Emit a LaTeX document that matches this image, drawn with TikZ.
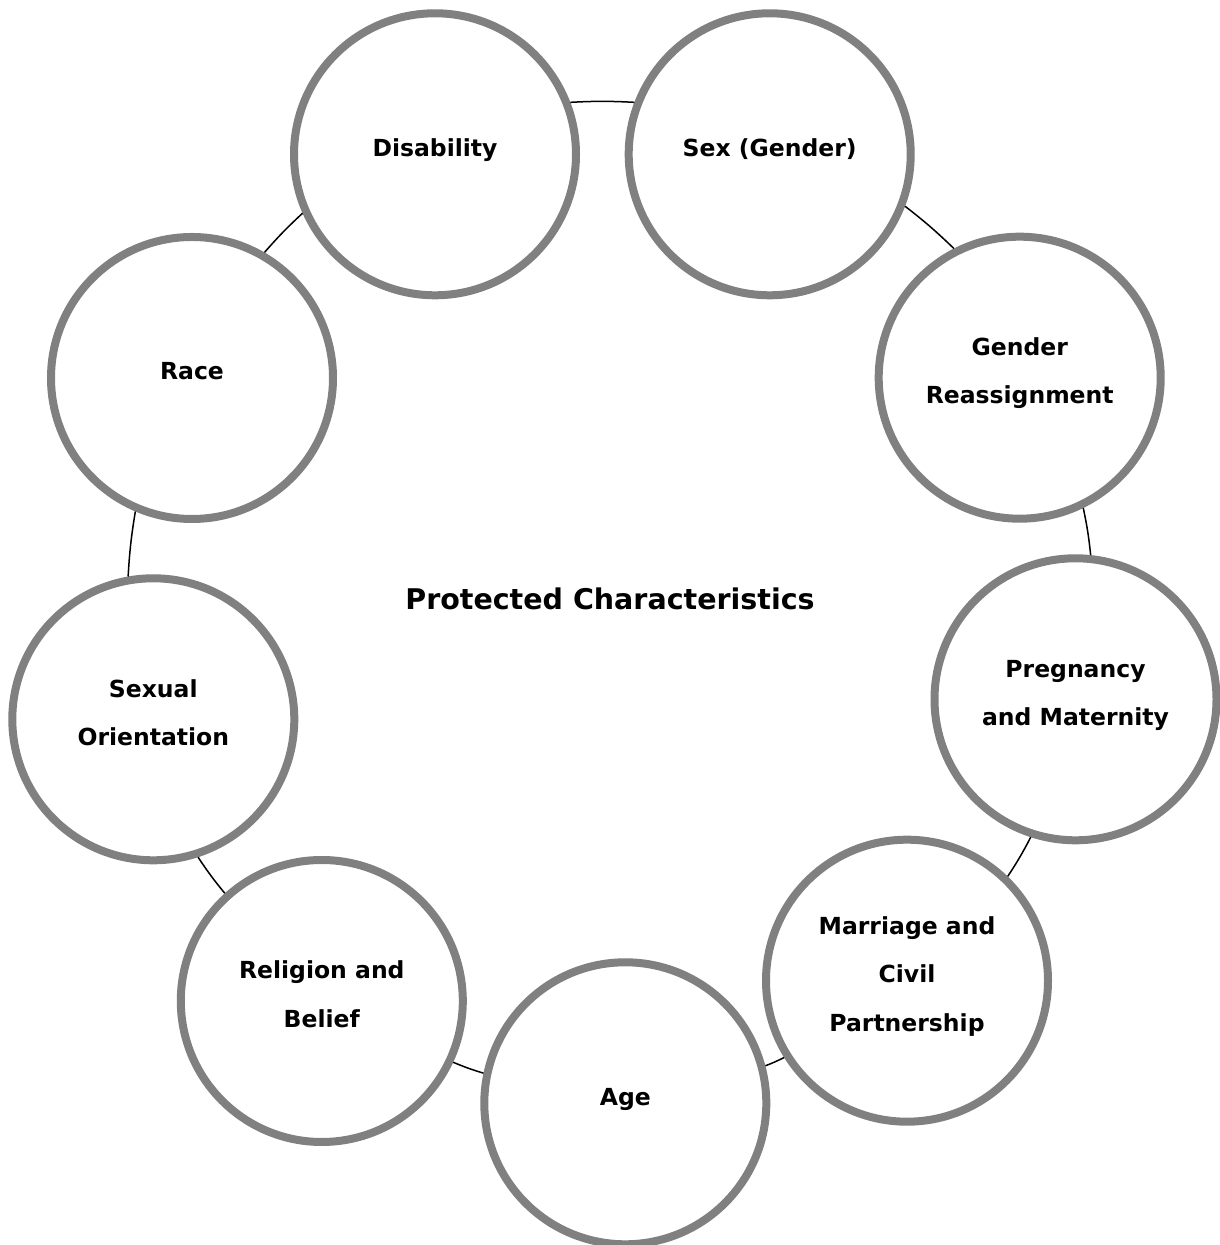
\documentclass[tikz,border=0pt]{standalone}
\usepackage{fontspec}
\setmainfont{DejaVu Sans}
\definecolor{ring}{HTML}{808080}
\newcommand\lstrut{\rule[-16pt]{0pt}{36pt}}
\begin{document}
\begin{tikzpicture}[x=1pt,y=1pt,
  item/.style={circle, draw=ring, line width=8pt, fill=white,
    minimum size=282pt, inner sep=0pt, align=center,
    font=\fontsize{23.5}{48.5}\selectfont\bfseries},
  link/.style={line width=1.5pt, draw=black, bend left=3},
  titletext/.style={font=\fontsize{28.5}{34}\selectfont\bfseries, anchor=base}]
\useasboundingbox (0,0) rectangle (1220,1245);
\node[item] (dis)  at (435,1090.7)  {\lstrut Disability};
\node[item] (sex)  at (769.7,1090.7) {\lstrut Sex (Gender)};
\node[item] (gr)   at (1019.7,867.3) {\lstrut Gender\\\lstrut Reassignment};
\node[item] (pm)   at (1075.5,545.7) {\lstrut Pregnancy\\\lstrut and Maternity};
\node[item] (mcp)  at (907,264.3)   {\lstrut Marriage and\\\lstrut Civil\\\lstrut Partnership};
\node[item] (age)  at (625.3,141.7) {\lstrut Age};
\node[item] (rb)   at (321.8,244)   {\lstrut Religion and\\\lstrut Belief};
\node[item] (so)   at (153.3,525.7) {\lstrut Sexual\\\lstrut Orientation};
\node[item] (race) at (192,867)     {\lstrut Race};
\node[titletext] (title) at (610,635) {Protected Characteristics};
\draw[link] (dis.21)   to (sex.159);
\draw[link] (sex.-21)  to (gr.117);
\draw[link] (gr.-64)   to (pm.84);
\draw[link] (pm.-108)  to (mcp.46);
\draw[link] (mcp.-148) to (age.15);
\draw[link] (age.168)  to (rb.-25);
\draw[link] (rb.132)   to (so.-72);
\draw[link] (so.100)   to (race.-113);
\draw[link] (race.60)  to (dis.-156);
\end{tikzpicture}
\end{document}
